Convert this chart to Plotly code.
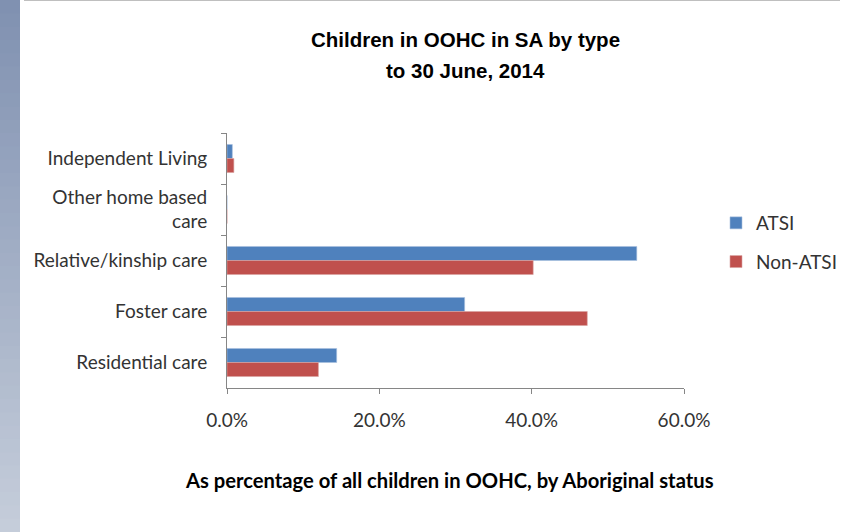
import plotly.graph_objects as go

categories = ["Independent Living", "Other home based<br>care", "Relative/kinship care",
              "Foster care", "Residential care"]
atsi = [0.007, 0.0, 0.538, 0.312, 0.144]
non_atsi = [0.009, 0.0, 0.402, 0.473, 0.120]
series_names = ["ATSI", "Non-ATSI"]
x_tick_vals = [0, 0.2, 0.4, 0.6]
x_tick_text = ["0.0%", "20.0%", "40.0%", "60.0%"]
title_lines = ["Children in OOHC in SA by type", "to 30 June, 2014"]
x_title = "As percentage of all children in OOHC, by Aboriginal status"

W, H = 848, 532
L, R, T, B = 227, 164, 133, 144
pw, ph = W - L - R, H - T - B

def px_x(p):
    return (p - L) / pw

def px_y(p):
    return (H - B - p) / ph

body_font = "Lato, Open Sans, sans-serif"
tick_font = dict(family=body_font, size=19, color="#333333")

fig = go.Figure()
fig.add_trace(go.Bar(y=categories, x=atsi, orientation="h", name=series_names[0],
                     marker=dict(color="#4F81BD", line=dict(color="#A7C0DE", width=0.6)),
                     legendgroup="a"))
fig.add_trace(go.Bar(y=categories, x=non_atsi, orientation="h", name=series_names[1],
                     marker=dict(color="#C0504D", line=dict(color="#D9A3A1", width=0.6)),
                     legendgroup="b"))

shapes = []
n = 40
c0 = (0x80, 0x91, 0xB1)
c1 = (0xC5, 0xCD, 0xDA)
for i in range(n):
    t = i / (n - 1)
    col = "rgb(%d,%d,%d)" % tuple(round(a + (b - a) * t) for a, b in zip(c0, c1))
    y0p = i * H / n
    y1p = (i + 1) * H / n + 1
    shapes.append(dict(type="rect", xref="paper", yref="paper",
                       x0=px_x(0), x1=px_x(20), y0=px_y(y1p), y1=px_y(y0p),
                       fillcolor=col, line=dict(width=0), layer="below"))
shapes.append(dict(type="line", xref="paper", yref="paper",
                   x0=px_x(24), x1=px_x(840), y0=px_y(0.5), y1=px_y(0.5),
                   line=dict(color="#BFBFBF", width=1.2)))

title_font = dict(family="Liberation Sans, Arial, sans-serif", size=20.5, color="black")
annotations = [
    dict(text="<b>%s</b>" % title_lines[0], xref="paper", yref="paper",
         x=px_x(465), y=px_y(40), xanchor="center", yanchor="middle",
         showarrow=False, font=title_font),
    dict(text="<b>%s</b>" % title_lines[1], xref="paper", yref="paper",
         x=px_x(465), y=px_y(70), xanchor="center", yanchor="middle",
         showarrow=False, font=title_font),
    dict(text="<b>%s</b>" % x_title, xref="paper", yref="paper",
         x=px_x(449), y=px_y(480), xanchor="center", yanchor="middle",
         showarrow=False, font=dict(family=body_font, size=20.2, color="black")),
]

fig.update_layout(
    width=W, height=H,
    margin=dict(l=L, r=R, t=T, b=B, autoexpand=False),
    paper_bgcolor="white", plot_bgcolor="white",
    barmode="group", bargap=0.45, bargroupgap=0,
    shapes=shapes,
    annotations=annotations,
    legend=dict(x=px_x(716), xanchor="left", y=px_y(242.5), yanchor="middle",
                traceorder="grouped", tracegroupgap=11,
                font=dict(family=body_font, size=19, color="#333333"),
                itemwidth=30, bgcolor="rgba(0,0,0,0)"),
    xaxis=dict(range=[0, 0.6], tickvals=x_tick_vals, ticktext=x_tick_text,
               showgrid=False, zeroline=False, showline=True, linecolor="#868686",
               linewidth=1, ticks="outside", ticklen=5, tickcolor="#868686",
               tickfont=tick_font, ticklabelstandoff=10, fixedrange=True),
    yaxis=dict(showgrid=False, zeroline=False, showline=True, linecolor="#868686",
               linewidth=1, ticks="outside", ticklen=5, tickcolor="#868686",
               tickson="boundaries", tickfont=tick_font, ticklabelstandoff=15,
               autorange="reversed", fixedrange=True),
)

fig.write_html("out.html", config={"displayModeBar": False},
               post_script="document.body.style.margin='0';document.body.style.overflow='hidden';")
